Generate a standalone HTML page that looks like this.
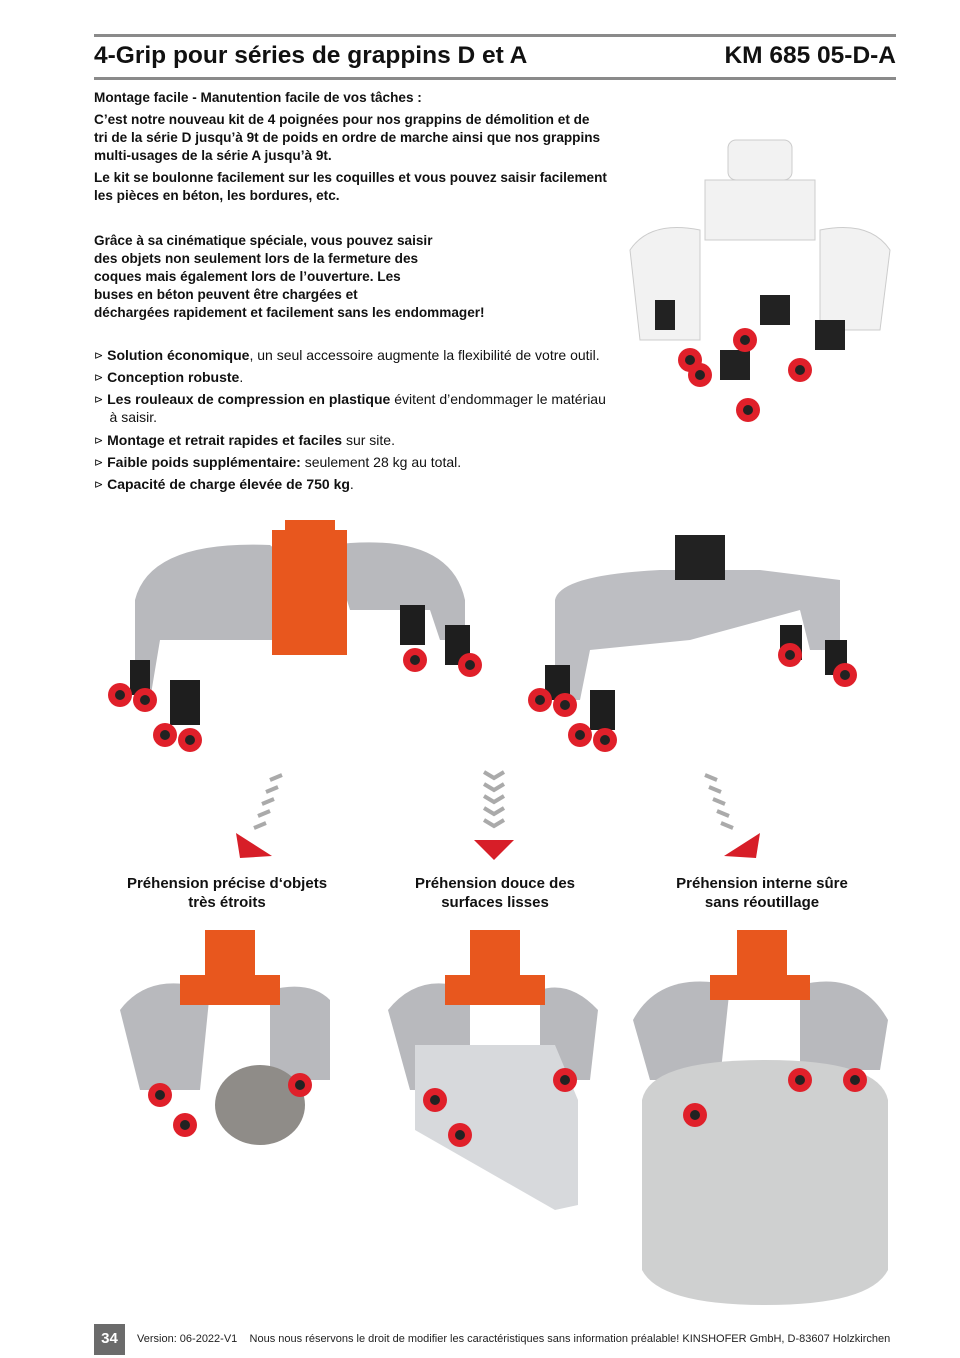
<!DOCTYPE html>
<html><head><meta charset="utf-8"><style>
body{margin:0;width:960px;height:1358px;background:#fff;position:relative;font-family:"Liberation Sans",sans-serif;color:#111;overflow:hidden}
.a{position:absolute}
.hl{position:absolute;left:94px;width:802px;height:3px;background:#8a8a8a}
.p{font-size:13.6px;font-weight:bold;line-height:18px;margin:0}
.b{font-size:14px}
.b>div{position:absolute;left:0;white-space:nowrap;line-height:18px}
.cap{font-size:15px;font-weight:bold;text-align:center;line-height:19px}
.t{font-size:11px;vertical-align:1px;line-height:10px}
</style></head><body>
<div class="hl" style="top:34px"></div>
<div class="hl" style="top:77px"></div>
<div class="a" style="left:94px;top:42px;font-size:24.5px;font-weight:bold">4-Grip pour séries de grappins D et A</div>
<div class="a" style="right:64px;top:42px;font-size:24.5px;font-weight:bold">KM 685 05-D-A</div>
<div class="a" style="left:94px;top:89px;width:540px">
<p class="p">Montage facile - Manutention facile de vos tâches :</p>
<p class="p" style="margin-top:4px">C’est notre nouveau kit de 4 poignées pour nos grappins de démolition et de<br>tri de la série D jusqu’à 9t de poids en ordre de marche ainsi que nos grappins<br>multi-usages de la série A jusqu’à 9t.</p>
<p class="p" style="margin-top:4px">Le kit se boulonne facilement sur les coquilles et vous pouvez saisir facilement<br>les pièces en béton, les bordures, etc.</p>
<p class="p" style="margin-top:27px">Grâce à sa cinématique spéciale, vous pouvez saisir<br>des objets non seulement lors de la fermeture des<br>coques mais également lors de l’ouverture. Les<br>buses en béton peuvent être chargées et<br>déchargées rapidement et facilement sans les endommager!</p>
</div>
<div class="a b" style="left:94px;top:0;width:540px">
<div style="top:346px"><span class="t">⊳</span> <b>Solution économique</b>, un seul accessoire augmente la flexibilité de votre outil.</div>
<div style="top:368px"><span class="t">⊳</span> <b>Conception robuste</b>.</div>
<div style="top:390px"><span class="t">⊳</span> <b>Les rouleaux de compression en plastique</b> évitent d’endommager le matériau<br>&nbsp;&nbsp;&nbsp;&nbsp;à saisir.</div>
<div style="top:431px"><span class="t">⊳</span> <b>Montage et retrait rapides et faciles</b> sur site.</div>
<div style="top:453px"><span class="t">⊳</span> <b>Faible poids supplémentaire:</b> seulement 28 kg au total.</div>
<div style="top:475px"><span class="t">⊳</span> <b>Capacité de charge élevée de 750 kg</b>.</div>
</div>

<svg class="a" style="left:0;top:0" width="960" height="1358">
<defs><g id="w"><circle r="12" fill="#e0202a"/><circle r="5" fill="#222"/></g></defs>
<g fill="#f2f2f2" stroke="#ccc">
<rect x="728" y="140" width="64" height="40" rx="8"/>
<rect x="705" y="180" width="110" height="60"/>
<path d="M630 250 Q650 220 700 230 L700 340 L640 340 Z"/>
<path d="M890 250 Q870 220 820 230 L820 330 L880 330 Z"/>
</g>
<g fill="#222"><rect x="655" y="300" width="20" height="30"/><rect x="720" y="350" width="30" height="30"/><rect x="760" y="295" width="30" height="30"/><rect x="815" y="320" width="30" height="30"/></g>
<use href="#w" x="700" y="375"/><use href="#w" x="745" y="340"/><use href="#w" x="748" y="410"/><use href="#w" x="800" y="370"/><use href="#w" x="690" y="360"/>
<g fill="#b8b9bd"><path d="M135 600 Q150 540 270 545 L300 570 L300 640 L160 640 L150 700 L135 700 Z"/><path d="M330 545 Q450 530 465 600 L465 640 L440 640 L430 610 L350 610 Z"/></g>
<rect x="272" y="530" width="75" height="125" fill="#e8571e"/><rect x="285" y="520" width="50" height="20" fill="#e8571e"/>
<g fill="#1e1e1e"><rect x="170" y="680" width="30" height="45"/><rect x="400" y="605" width="25" height="40"/><rect x="445" y="625" width="25" height="40"/><rect x="130" y="660" width="20" height="35"/></g>
<use href="#w" x="120" y="695"/><use href="#w" x="145" y="700"/><use href="#w" x="165" y="735"/><use href="#w" x="190" y="740"/><use href="#w" x="415" y="660"/><use href="#w" x="470" y="665"/>
<g fill="#bdbec2"><path d="M555 600 Q560 575 660 570 L760 570 L840 580 L840 650 L810 650 L800 610 L690 640 L590 650 L580 700 L555 700 Z"/></g>
<rect x="675" y="535" width="50" height="45" fill="#222"/>
<g fill="#1e1e1e"><rect x="590" y="690" width="25" height="40"/><rect x="545" y="665" width="25" height="35"/><rect x="780" y="625" width="22" height="35"/><rect x="825" y="640" width="22" height="35"/></g>
<use href="#w" x="540" y="700"/><use href="#w" x="565" y="705"/><use href="#w" x="580" y="735"/><use href="#w" x="605" y="740"/><use href="#w" x="790" y="655"/><use href="#w" x="845" y="675"/>
<g fill="none" stroke="#aaa" stroke-width="4">
<path d="M282 775 l-12 5 M278 787 l-12 5 M274 799 l-12 5 M270 811 l-12 5 M266 823 l-12 5"/>
<path d="M484 772 l10 6 l10 -6 M484 784 l10 6 l10 -6 M484 796 l10 6 l10 -6 M484 808 l10 6 l10 -6 M484 820 l10 6 l10 -6"/>
<path d="M705 775 l12 5 M709 787 l12 5 M713 799 l12 5 M717 811 l12 5 M721 823 l12 5"/>
</g>
<path d="M236 833 L272 856 L240 858 Z" fill="#d71e28"/>
<path d="M474 840 L514 840 L494 860 Z" fill="#d71e28"/>
<path d="M760 833 L724 856 L756 858 Z" fill="#d71e28"/>
<g fill="#b8b9bd">
<path d="M120 1010 Q150 970 210 990 L200 1090 L140 1090 Z"/><path d="M330 1000 Q310 980 270 990 L270 1080 L330 1080 Z"/>
<path d="M388 1010 Q420 970 470 990 L470 1090 L410 1090 Z"/><path d="M598 1010 Q570 980 540 990 L540 1080 L590 1080 Z"/>
<path d="M633 1020 Q660 970 730 985 L720 1080 L650 1080 Z"/><path d="M888 1020 Q860 970 800 985 L800 1070 L880 1070 Z"/>
</g>
<g fill="#e8571e"><rect x="205" y="930" width="50" height="60"/><rect x="470" y="930" width="50" height="60"/><rect x="737" y="930" width="50" height="55"/><rect x="180" y="975" width="100" height="30"/><rect x="445" y="975" width="100" height="30"/><rect x="710" y="975" width="100" height="25"/></g>
<ellipse cx="260" cy="1105" rx="45" ry="40" fill="#8f8c88"/>
<path d="M415 1045 L555 1045 L578 1100 L578 1205 L555 1210 L415 1130 Z" fill="#d7d9dc"/>
<path d="M642 1100 Q650 1060 765 1060 Q880 1060 888 1100 L888 1270 Q870 1305 765 1305 Q660 1305 642 1270 Z" fill="#cfd0d0"/>
<use href="#w" x="160" y="1095"/><use href="#w" x="185" y="1125"/><use href="#w" x="300" y="1085"/><use href="#w" x="435" y="1100"/><use href="#w" x="460" y="1135"/><use href="#w" x="565" y="1080"/><use href="#w" x="695" y="1115"/><use href="#w" x="800" y="1080"/><use href="#w" x="855" y="1080"/>
</svg>

<div class="a cap" style="left:97px;width:260px;top:874px">Préhension précise d‘objets<br>très étroits</div>
<div class="a cap" style="left:365px;width:260px;top:874px">Préhension douce des<br>surfaces lisses</div>
<div class="a cap" style="left:632px;width:260px;top:874px">Préhension interne sûre<br>sans réoutillage</div>

<div class="a" style="left:94px;top:1324px;width:31px;height:31px;background:#6b6b6b;color:#fff;font-weight:bold;font-size:15px;text-align:center;line-height:29px">34</div>
<div class="a" style="left:137px;top:1333px;font-size:11px;color:#222;white-space:nowrap">Version: 06-2022-V1&nbsp;&nbsp;&nbsp;&nbsp;Nous nous réservons le droit de modifier les caractéristiques sans information préalable! KINSHOFER GmbH, D-83607 Holzkirchen</div>
</body></html>
